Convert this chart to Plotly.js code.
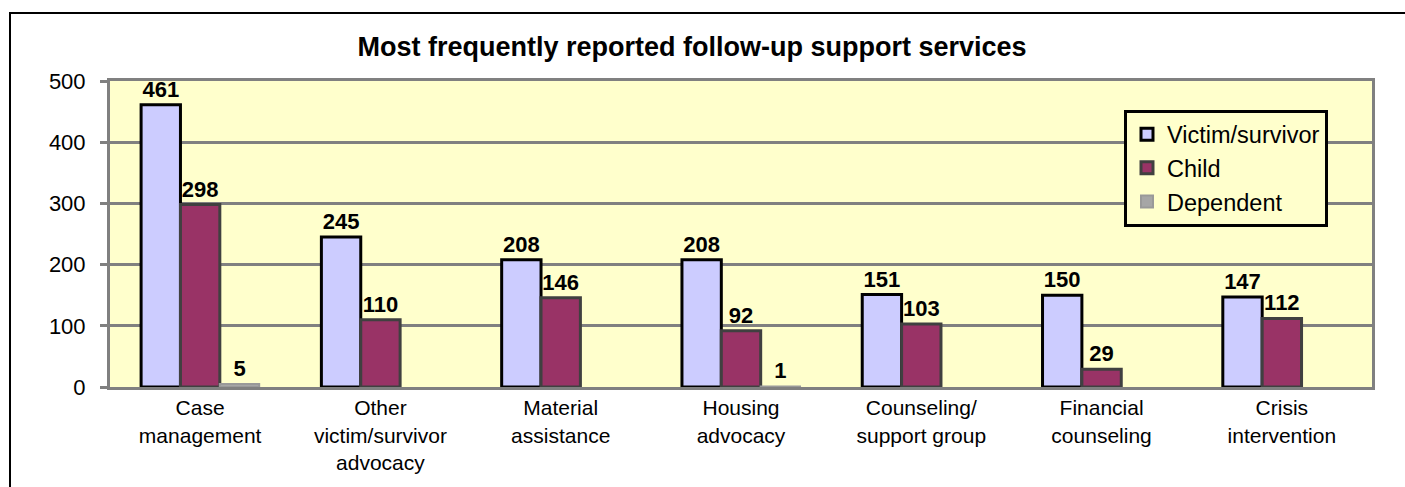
<!DOCTYPE html>
<html>
<head>
<meta charset="utf-8">
<script src="https://cdn.plot.ly/plotly-3.0.1.min.js"></script>
<style>html,body{margin:0;padding:0;background:#fff;}#chart{width:1405px;height:487px;}</style>
</head>
<body>
<div id="chart"></div>
<script>
const categories = ["Case<br>management", "Other<br>victim/survivor<br>advocacy", "Material<br>assistance", "Housing<br>advocacy", "Counseling/<br>support group", "Financial<br>counseling", "Crisis<br>intervention"];
const victimSurvivor = [461, 245, 208, 208, 151, 150, 147];
const child = [298, 110, 146, 92, 103, 29, 112];
const dependent = [5, 0, 0, 1, 0, 0, 0];
const yTicks = [0, 100, 200, 300, 400, 500];

const FONT = "Arial, Liberation Sans, sans-serif";
const labelFont = {family: FONT, size: 22, color: "#000"};
function labels(vals) { return vals.map(v => v > 0 ? "<b>" + v + "</b>" : ""); }

const traces = [
  {type: "bar", name: "Victim/survivor", x: categories, y: victimSurvivor,
   marker: {color: "#CCCCFF", line: {color: "#000000", width: 3}},
   text: labels(victimSurvivor), textposition: "outside", textfont: labelFont, cliponaxis: false, hoverinfo: "none"},
  {type: "bar", name: "Child", x: categories, y: child,
   marker: {color: "#993366", line: {color: "#404040", width: 3}},
   text: labels(child), textposition: "outside", textfont: labelFont, cliponaxis: false, hoverinfo: "none"},
  {type: "bar", name: "Dependent", x: categories, y: dependent,
   marker: {color: "#A6A6A6", line: {color: "#999999", width: dependent.map(v => v > 0 ? 2 : 0)}},
   text: labels(dependent), textposition: "outside", textfont: labelFont, cliponaxis: false, hoverinfo: "none"}
];

const layout = {
  width: 1405, height: 487,
  margin: {l: 110, r: 33, t: 81, b: 100, pad: 0},
  paper_bgcolor: "#FFFFFF",
  plot_bgcolor: "#FFFFCC",
  font: {family: FONT, size: 21, color: "#000"},
  title: {text: "<b>Most frequently reported follow-up support services</b>",
          font: {family: FONT, size: 27, color: "#000"},
          xref: "container", x: 692/1405, xanchor: "center",
          yref: "container", y: 1 - 47/487, yanchor: "middle"},
  barmode: "group", bargap: 0.345, bargroupgap: 0,
  showlegend: true,
  legend: {x: (1124-110)/1262, xanchor: "left", y: (387-168)/306, yanchor: "middle",
           bgcolor: "#FFFFCC", bordercolor: "#000", borderwidth: 3,
           font: {family: FONT, size: 23.5, color: "#000"},
           itemwidth: 30, tracegroupgap: 0},
  xaxis: {type: "category", showline: true, linecolor: "#808080", linewidth: 3, mirror: true,
          ticks: "", showgrid: false, tickfont: {family: FONT, size: 21, color: "#000"}, fixedrange: true},
  yaxis: {range: [0, 500], tickvals: yTicks, ticktext: yTicks.map(String),
          showgrid: true, gridcolor: "#808080", gridwidth: 3,
          showline: true, linecolor: "#808080", linewidth: 3, mirror: true,
          ticks: "outside", ticklen: 7, tickwidth: 3, tickcolor: "#808080",
          ticklabelstandoff: 10, tickfont: {family: FONT, size: 22, color: "#000"}, zeroline: false, fixedrange: true},
  shapes: [{type: "rect", xref: "paper", yref: "paper",
            x0: (10-110)/1262, x1: 1.2, y0: -0.6, y1: (387-13)/306,
            line: {color: "#000", width: 2}, fillcolor: "rgba(0,0,0,0)", layer: "below"}]
};

Plotly.newPlot("chart", traces, layout, {displayModeBar: false, staticPlot: true});
</script>
</body>
</html>
